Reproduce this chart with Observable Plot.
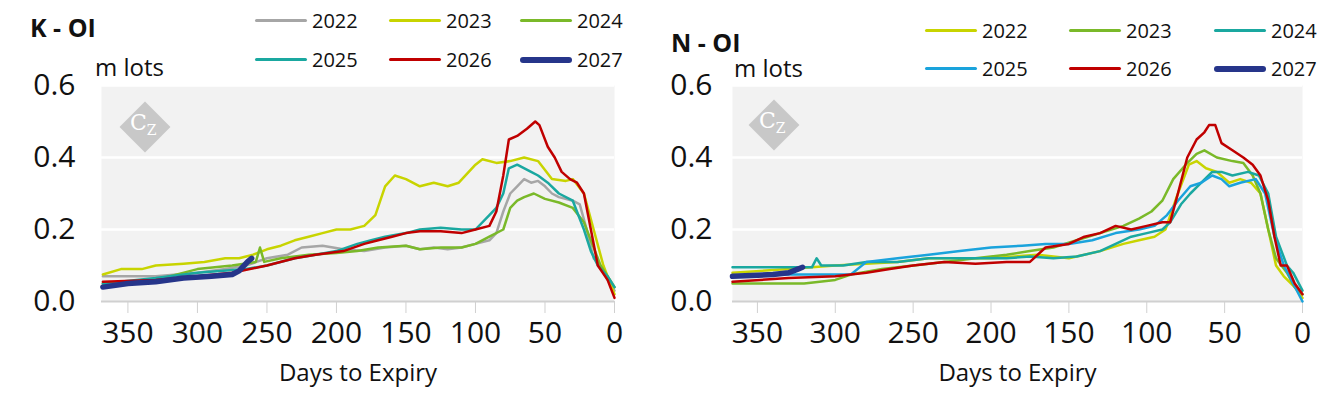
<!DOCTYPE html>
<html><head><meta charset="utf-8">
<script src="https://cdn.jsdelivr.net/npm/d3@7"></script>
<script src="https://cdn.jsdelivr.net/npm/@observablehq/plot@0.6"></script>
<style>
body{margin:0;font-family:"Open Sans",sans-serif;background:#fff;}
#wrap{position:relative;width:1328px;height:401px;}
.panel{position:absolute;top:0;width:664px;height:401px;}
.abs{position:absolute;white-space:nowrap;}
.title{font-weight:bold;font-size:25px;color:#111;}
.unit{font-size:24px;color:#111;}
.leg{font-size:20px;color:#111;display:flex;align-items:center;}
.leg span.l{display:inline-block;width:52px;margin-right:5px;border-radius:3px;}
.wm{width:36px;height:36px;background:#c8c8c8;transform:rotate(45deg);}
.wmt{font-family:"DejaVu Serif",serif;color:#fff;font-size:22px;}
.panel svg text{font-size:30px !important;}
.panel svg g[aria-label="text"] text{font-size:24px !important;}
</style></head><body><div id="wrap"></div>
<script>
const years=["2022","2023","2024","2025","2026","2027"];
const kColors=["#a6a6a6","#c8d400","#7ab929","#1aa8a0","#c00000","#26358a"];
const nColors=["#c8d400","#7ab929","#1aa8a0","#1aa3dc","#c00000","#26358a"];
const k2022=[[368,0.07],[330,0.07],[300,0.08],[280,0.09],[265,0.10],[250,0.12],[235,0.13],[225,0.15],[210,0.155],[195,0.145],[180,0.14],[165,0.15],[150,0.155],[140,0.145],[130,0.15],[120,0.145],[110,0.15],[100,0.16],[90,0.17],[85,0.19],[80,0.25],[75,0.30],[70,0.32],[65,0.34],[60,0.33],[55,0.335],[50,0.32],[45,0.30],[40,0.29],[30,0.28],[25,0.27],[20,0.2],[15,0.12],[10,0.1],[5,0.06],[0,0.03]];
const k2023=[[368,0.075],[355,0.09],[340,0.09],[330,0.1],[310,0.105],[295,0.11],[280,0.12],[270,0.12],[260,0.13],[250,0.145],[240,0.155],[230,0.17],[220,0.18],[210,0.19],[200,0.2],[190,0.2],[180,0.21],[172,0.24],[165,0.32],[158,0.35],[150,0.34],[140,0.32],[130,0.33],[120,0.32],[112,0.33],[100,0.38],[95,0.395],[85,0.385],[75,0.39],[65,0.40],[55,0.39],[45,0.34],[35,0.335],[30,0.34],[22,0.3],[15,0.2],[8,0.1],[3,0.05],[0,0.02]];
const k2024=[[368,0.05],[330,0.06],[300,0.09],[275,0.1],[258,0.11],[255,0.15],[252,0.11],[240,0.12],[220,0.13],[200,0.135],[185,0.14],[170,0.15],[150,0.155],[140,0.145],[125,0.15],[110,0.15],[100,0.16],[90,0.18],[80,0.2],[75,0.26],[70,0.28],[65,0.29],[58,0.30],[50,0.285],[40,0.275],[30,0.26],[22,0.22],[15,0.15],[10,0.1],[5,0.07],[0,0.04]];
const k2025=[[368,0.05],[330,0.065],[300,0.08],[265,0.09],[250,0.1],[230,0.12],[215,0.13],[200,0.14],[185,0.16],[175,0.17],[165,0.18],[150,0.19],[140,0.2],[125,0.205],[110,0.2],[100,0.2],[90,0.24],[85,0.26],[80,0.3],[76,0.37],[70,0.38],[60,0.36],[55,0.35],[48,0.33],[40,0.3],[30,0.28],[22,0.2],[17,0.14],[12,0.1],[5,0.07],[0,0.04]];
const k2026=[[368,0.055],[330,0.06],[300,0.07],[275,0.08],[250,0.1],[230,0.12],[215,0.13],[195,0.14],[180,0.16],[170,0.17],[160,0.18],[150,0.19],[140,0.195],[125,0.195],[110,0.19],[100,0.2],[90,0.21],[85,0.25],[80,0.35],[76,0.45],[70,0.46],[63,0.48],[57,0.5],[54,0.49],[48,0.43],[43,0.4],[38,0.36],[32,0.34],[27,0.33],[22,0.3],[17,0.2],[12,0.1],[5,0.06],[0,0.01]];
const k2027=[[368,0.04],[350,0.05],[330,0.055],[310,0.065],[290,0.07],[275,0.075],[270,0.085],[264,0.11],[261,0.12]];
const n2022=[[366,0.08],[330,0.09],[300,0.1],[260,0.11],[240,0.12],[200,0.12],[170,0.13],[150,0.12],[130,0.14],[115,0.16],[105,0.17],[95,0.18],[88,0.2],[80,0.3],[73,0.38],[68,0.39],[62,0.37],[55,0.36],[47,0.33],[40,0.34],[33,0.33],[27,0.3],[22,0.2],[17,0.1],[12,0.07],[5,0.04],[0,0.01]];
const n2023=[[366,0.05],[320,0.05],[300,0.06],[290,0.075],[270,0.09],[250,0.1],[230,0.11],[210,0.12],[190,0.13],[175,0.14],[160,0.15],[145,0.17],[130,0.19],[115,0.21],[105,0.23],[97,0.25],[90,0.28],[83,0.34],[75,0.38],[68,0.41],[63,0.42],[55,0.4],[45,0.39],[38,0.385],[32,0.35],[27,0.3],[22,0.2],[17,0.12],[10,0.08],[5,0.04],[0,0.02]];
const n2024=[[366,0.095],[315,0.095],[312,0.12],[309,0.1],[295,0.1],[280,0.11],[260,0.11],[240,0.12],[210,0.12],[190,0.12],[175,0.125],[160,0.12],[145,0.125],[130,0.14],[120,0.16],[110,0.18],[100,0.19],[90,0.2],[85,0.22],[78,0.27],[72,0.3],[65,0.33],[58,0.36],[52,0.36],[45,0.35],[35,0.36],[28,0.35],[22,0.3],[17,0.18],[10,0.1],[6,0.08],[0,0.03]];
const n2025=[[366,0.07],[330,0.075],[300,0.075],[290,0.075],[280,0.11],[260,0.12],[240,0.13],[220,0.14],[200,0.15],[180,0.155],[165,0.16],[150,0.16],[135,0.17],[120,0.19],[105,0.2],[95,0.21],[87,0.24],[80,0.28],[72,0.32],[65,0.33],[58,0.35],[52,0.34],[47,0.32],[40,0.33],[30,0.34],[24,0.3],[18,0.18],[12,0.1],[6,0.05],[0,0.0]];
const n2026=[[366,0.055],[330,0.065],[300,0.07],[280,0.08],[265,0.09],[250,0.1],[230,0.11],[210,0.105],[190,0.11],[175,0.11],[165,0.15],[150,0.16],[140,0.18],[130,0.19],[120,0.21],[110,0.2],[100,0.21],[90,0.22],[85,0.22],[80,0.3],[74,0.4],[68,0.45],[63,0.47],[60,0.49],[56,0.49],[52,0.44],[45,0.42],[38,0.4],[32,0.38],[27,0.35],[22,0.28],[18,0.18],[14,0.1],[10,0.1],[5,0.05],[0,0.02]];
const n2027=[[366,0.07],[340,0.075],[330,0.08],[324,0.09],[321,0.095]];
const yTicks=[0,0.2,0.4,0.6];
const xTicks=[350,300,250,200,150,100,50,0];

function panel(cfg){
  const p=document.createElement("div");p.className="panel";p.style.left=cfg.left+"px";
  const rows=[];
  cfg.series.forEach((s,i)=>s.forEach(([d,v])=>rows.push({d,v,y:years[i]})));
  const chart=Plot.plot({
    width:664,height:401,marginLeft:cfg.ml,marginRight:cfg.mr,marginTop:85,marginBottom:100,
    style:{fontFamily:"Open Sans",color:"#111",background:"transparent",overflow:"visible"},
    x:{domain:cfg.xd,ticks:xTicks,label:null},
    y:{domain:[0,0.6],ticks:yTicks,label:null},
    color:{domain:years,range:cfg.colors},
    marks:[
      Plot.frame({fill:"#f2f2f2",stroke:null}),
      Plot.gridY(yTicks.slice(1),{stroke:"#fff",strokeOpacity:1,strokeWidth:2.5}),
      Plot.ruleY([0],{stroke:"#d0d0d0",strokeWidth:2}),
      Plot.axisY(yTicks,{tickSize:0,tickPadding:cfg.tp,tickFormat:d3.format(".1f")}),
      Plot.axisX(xTicks,{tickSize:12,stroke:"#d0d0d0",tickPadding:8}),
      Plot.text(["Days to Expiry"],{frameAnchor:"bottom",dy:79}),
      Plot.line(rows.filter(r=>r.y!=="2027"),{x:"d",y:"v",z:"y",stroke:"y",strokeWidth:2.5}),
      Plot.line(rows.filter(r=>r.y==="2027"),{x:"d",y:"v",z:"y",stroke:"y",strokeWidth:5.5,strokeLinecap:"round"})
    ]});
  p.appendChild(chart);
  const add=(html,cls,x,y)=>{const e=document.createElement("div");e.className="abs "+cls;e.style.left=x+"px";e.style.top=y+"px";e.innerHTML=html;p.appendChild(e);return e;};
  add(cfg.title,"title",cfg.tx,cfg.ty);
  add("m lots","unit",cfg.ux,cfg.uy);
  years.forEach((yr,i)=>{
    const c=i%3,r=Math.floor(i/3);
    add(`<span class="l" style="height:${yr==="2027"?6:3}px;background:${cfg.colors[i]}"></span>${yr}`,"leg",cfg.lx[c],cfg.ly[r]);
  });
  add("","wm",cfg.wx-18,cfg.wy-18);
  add("C<sub style='font-size:14px'>Z</sub>","wmt",cfg.wx-15,cfg.wy-17);
  document.getElementById("wrap").appendChild(p);
}
panel({left:0,ml:101,mr:50,tp:26,xd:[369,0],colors:kColors,series:[k2022,k2023,k2024,k2025,k2026,k2027],
  title:"K - OI",tx:30,ty:10,ux:95,uy:50,lx:[255,389,520],ly:[7,46],wx:145,wy:127});
panel({left:664,ml:68,mr:26,tp:20,xd:[366,0],colors:nColors,series:[n2022,n2023,n2024,n2025,n2026,n2027],
  title:"N - OI",tx:7,ty:25,ux:70,uy:51,lx:[261,405,550],ly:[17,55],wx:110,wy:125});
</script></body></html>
